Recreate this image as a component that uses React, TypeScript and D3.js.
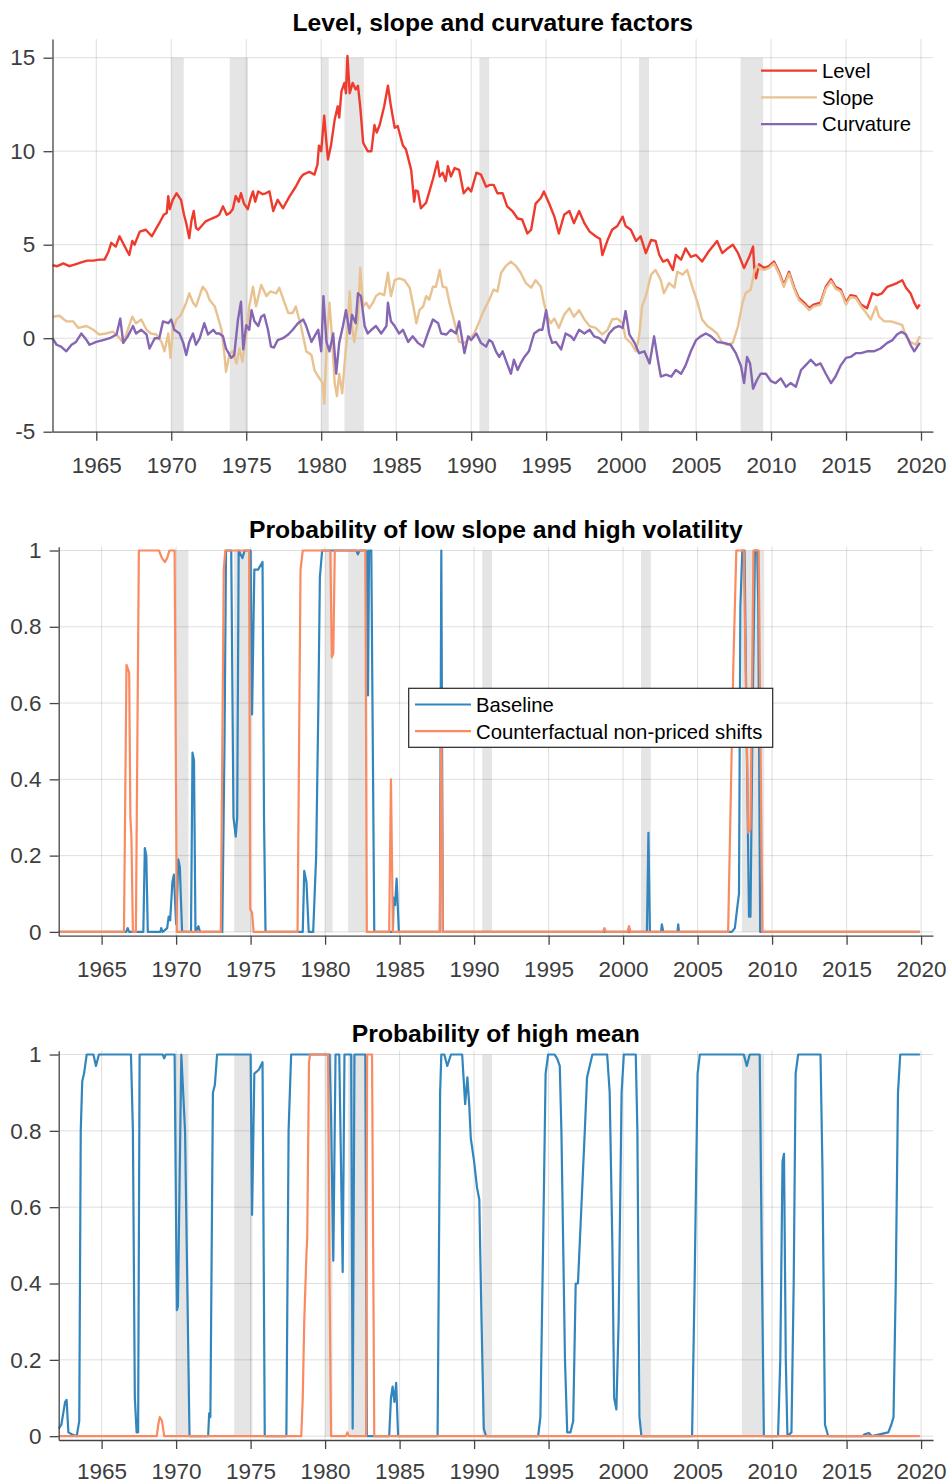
import React, { useEffect, useRef } from 'react';
import * as d3 from 'd3';

type Pt = [number, number];

// x ticks shared by the three panels
const yearTicks = [1965, 1970, 1975, 1980, 1985, 1990, 1995, 2000, 2005, 2010, 2015, 2020];
const factorTicks = [-5, 0, 5, 10, 15];
const probTicks = [0, 0.2, 0.4, 0.6, 0.8, 1];

// NBER recessions (start, end)
const recessions: Pt[] = [
  [1970.0, 1970.83], [1973.9, 1975.12], [1980.0, 1980.5], [1981.55, 1982.84],
  [1990.55, 1991.2], [2001.2, 2001.86], [2007.97, 2009.47],
];

// --- panel 1: factors, [year, value] ---
const level: Pt[] = [
  [1962.08, 3.9], [1962.4, 3.85], [1962.8, 4.0], [1963.2, 3.85], [1963.6, 3.95], [1964.0, 4.05], [1964.4, 4.15],
  [1964.8, 4.15], [1965.2, 4.2], [1965.55, 4.2], [1965.8, 4.6], [1966.0, 5.1], [1966.3, 4.9], [1966.55, 5.45],
  [1966.9, 4.9], [1967.2, 4.45], [1967.4, 5.2], [1967.55, 5.0], [1967.9, 5.7], [1968.3, 5.8], [1968.7, 5.45],
  [1969.2, 6.15], [1969.5, 6.6], [1969.7, 6.7], [1969.8, 7.6], [1969.9, 6.9], [1970.1, 7.4], [1970.35, 7.75],
  [1970.65, 7.4], [1970.85, 6.6], [1971.0, 6.15], [1971.2, 5.35], [1971.35, 6.3], [1971.5, 6.8], [1971.65, 5.9],
  [1971.8, 5.8], [1972.3, 6.25], [1972.7, 6.4], [1973.0, 6.5], [1973.2, 6.6], [1973.45, 7.05], [1973.7, 6.6],
  [1973.9, 6.7], [1974.1, 6.9], [1974.3, 7.6], [1974.5, 7.3], [1974.65, 7.75], [1974.85, 7.2], [1975.1, 6.9],
  [1975.3, 7.5], [1975.45, 7.85], [1975.6, 7.3], [1975.8, 7.85], [1976.1, 7.7], [1976.3, 7.75], [1976.55, 7.85],
  [1976.8, 6.8], [1977.1, 7.4], [1977.45, 6.95], [1977.9, 7.6], [1978.3, 8.1], [1978.6, 8.55], [1978.8, 8.75],
  [1979.2, 8.9], [1979.55, 8.75], [1979.75, 9.3], [1979.85, 10.3], [1980.0, 10.0], [1980.2, 11.9], [1980.3, 10.9],
  [1980.45, 9.55], [1980.65, 10.3], [1980.9, 11.7], [1981.1, 12.4], [1981.2, 11.8], [1981.35, 13.2], [1981.55, 13.65],
  [1981.65, 13.1], [1981.75, 15.1], [1981.9, 13.1], [1982.1, 13.65], [1982.3, 13.3], [1982.45, 13.5], [1982.6, 12.4],
  [1982.8, 10.45], [1983.1, 10.0], [1983.35, 10.0], [1983.55, 11.4], [1983.7, 11.0], [1983.9, 11.4], [1984.2, 12.4],
  [1984.45, 13.5], [1984.65, 12.4], [1984.9, 11.25], [1985.1, 11.35], [1985.45, 10.3], [1985.65, 10.1], [1986.0, 9.0],
  [1986.2, 7.3], [1986.3, 7.9], [1986.45, 7.85], [1986.65, 6.95], [1987.0, 7.25], [1987.45, 8.5], [1987.75, 9.45],
  [1987.9, 8.65], [1988.1, 8.85], [1988.3, 8.4], [1988.45, 9.2], [1988.65, 8.65], [1988.9, 9.1], [1989.2, 9.0],
  [1989.5, 7.75], [1989.8, 8.05], [1990.0, 7.85], [1990.35, 8.85], [1990.65, 8.75], [1991.0, 8.1], [1991.25, 8.2],
  [1991.5, 8.2], [1991.75, 7.75], [1992.1, 7.75], [1992.4, 7.05], [1992.75, 6.8], [1993.1, 6.4], [1993.4, 6.35],
  [1993.75, 5.6], [1994.0, 5.8], [1994.3, 7.2], [1994.65, 7.5], [1994.85, 7.85], [1995.2, 7.2], [1995.55, 6.5],
  [1995.85, 5.6], [1996.2, 6.6], [1996.55, 6.8], [1996.85, 6.15], [1997.2, 6.8], [1997.55, 6.15], [1997.9, 5.7],
  [1998.3, 5.45], [1998.6, 5.3], [1998.75, 4.45], [1999.1, 5.25], [1999.4, 5.8], [1999.75, 6.0], [2000.1, 6.5],
  [2000.3, 6.0], [2000.65, 5.8], [2001.0, 5.2], [2001.3, 5.45], [2001.65, 4.55], [2002.0, 5.25], [2002.3, 5.2],
  [2002.55, 4.45], [2002.8, 4.1], [2003.1, 4.2], [2003.45, 3.65], [2003.65, 4.45], [2004.0, 4.2], [2004.3, 4.8],
  [2004.65, 4.35], [2005.0, 4.45], [2005.4, 4.1], [2005.85, 4.65], [2006.4, 5.2], [2006.75, 4.55], [2007.1, 4.8],
  [2007.45, 5.0], [2007.8, 4.55], [2008.2, 3.75], [2008.55, 4.35], [2008.8, 4.9], [2008.9, 3.5], [2009.0, 3.2],
  [2009.2, 3.95], [2009.55, 3.75], [2009.85, 3.85], [2010.2, 4.1], [2010.55, 3.5], [2010.85, 2.85], [2011.2, 3.55],
  [2011.55, 2.7], [2011.85, 2.15], [2012.2, 1.9], [2012.55, 1.6], [2012.85, 1.8], [2013.3, 1.9], [2013.65, 2.75],
  [2014.0, 3.15], [2014.3, 2.75], [2014.65, 2.6], [2015.0, 1.9], [2015.3, 2.3], [2015.65, 2.25], [2016.0, 1.8],
  [2016.4, 1.6], [2016.75, 2.4], [2017.1, 2.3], [2017.4, 2.4], [2017.75, 2.75], [2018.1, 2.85], [2018.4, 2.95],
  [2018.75, 3.1], [2019.0, 2.7], [2019.3, 2.4], [2019.55, 1.9], [2019.75, 1.6], [2019.92, 1.8],
];

const slope: Pt[] = [
  [1962.08, 1.15], [1962.55, 1.2], [1963.0, 0.9], [1963.45, 0.9], [1963.8, 0.55], [1964.35, 0.65], [1964.8, 0.45],
  [1965.2, 0.2], [1965.65, 0.25], [1966.1, 0.35], [1966.45, 0.1], [1966.8, -0.25], [1967.1, 0.45], [1967.4, 1.15],
  [1967.65, 0.8], [1968.0, 1.0], [1968.35, 0.45], [1968.65, 0.25], [1969.0, 0.2], [1969.35, -0.2], [1969.55, -0.7],
  [1969.8, 0.25], [1969.95, -1.05], [1970.1, 0.45], [1970.35, 1.0], [1970.65, 1.25], [1971.0, 1.9], [1971.2, 2.4],
  [1971.45, 1.9], [1971.65, 1.7], [1971.9, 2.3], [1972.1, 2.75], [1972.35, 2.5], [1972.55, 2.05], [1972.9, 1.7],
  [1973.1, 1.15], [1973.35, 0.45], [1973.55, -0.9], [1973.65, -1.8], [1973.9, -0.8], [1974.1, -0.7], [1974.35, -1.35],
  [1974.55, -0.55], [1974.75, -1.25], [1975.0, 0.25], [1975.2, 1.7], [1975.45, 2.75], [1975.65, 1.7], [1976.0, 2.85],
  [1976.35, 2.25], [1976.6, 2.5], [1977.0, 2.4], [1977.2, 2.7], [1977.55, 1.9], [1977.8, 1.35], [1978.1, 1.35],
  [1978.3, 1.7], [1978.65, 0.65], [1979.0, -0.7], [1979.35, -0.9], [1979.55, -1.7], [1979.8, -2.05], [1980.1, -2.4],
  [1980.2, -3.5], [1980.4, 0.25], [1980.55, 1.9], [1980.7, 0.25], [1980.9, -2.4], [1981.05, -3.1], [1981.2, -1.9],
  [1981.4, -2.95], [1981.55, -1.45], [1981.7, -0.1], [1981.9, 2.5], [1982.05, 0.65], [1982.2, -0.2], [1982.45, 1.0],
  [1982.6, 3.75], [1982.8, 1.7], [1983.0, 1.9], [1983.2, 1.6], [1983.45, 1.9], [1983.65, 2.25], [1983.9, 2.4],
  [1984.2, 2.3], [1984.45, 3.5], [1984.65, 2.25], [1984.9, 3.1], [1985.2, 3.2], [1985.55, 3.1], [1985.9, 2.7],
  [1986.1, 1.9], [1986.35, 0.8], [1986.55, 1.5], [1986.8, 1.7], [1987.0, 2.25], [1987.2, 2.05], [1987.45, 2.75],
  [1987.65, 2.75], [1987.9, 3.65], [1988.1, 2.75], [1988.35, 2.7], [1988.55, 1.9], [1988.9, 0.8], [1989.2, -0.2],
  [1989.55, -0.25], [1989.9, 0.0], [1990.2, 0.25], [1990.45, 0.7], [1990.8, 1.4], [1991.2, 2.05], [1991.5, 2.6],
  [1991.75, 2.5], [1992.0, 3.5], [1992.3, 3.85], [1992.65, 4.1], [1993.0, 3.85], [1993.3, 3.5], [1993.65, 2.95],
  [1994.0, 2.7], [1994.3, 3.1], [1994.65, 2.75], [1994.85, 1.9], [1995.1, 1.15], [1995.3, 0.8], [1995.55, 1.05],
  [1995.85, 0.55], [1996.2, 1.25], [1996.55, 1.6], [1996.85, 1.15], [1997.2, 1.5], [1997.55, 1.0], [1997.9, 0.65],
  [1998.3, 0.55], [1998.75, 0.2], [1999.1, 0.45], [1999.4, 1.0], [1999.75, 1.05], [2000.1, 0.8], [2000.3, 0.0],
  [2000.65, -0.25], [2001.0, -0.7], [2001.2, 0.1], [2001.4, 1.7], [2001.65, 2.25], [2002.0, 3.4], [2002.3, 3.65],
  [2002.65, 3.1], [2002.85, 2.4], [2003.2, 2.95], [2003.55, 2.7], [2003.75, 3.55], [2004.1, 3.4], [2004.4, 3.65],
  [2004.75, 2.75], [2005.1, 1.9], [2005.4, 1.0], [2005.75, 0.65], [2006.1, 0.45], [2006.4, 0.25], [2006.75, -0.25],
  [2007.1, -0.35], [2007.45, -0.25], [2007.8, 0.65], [2008.1, 1.9], [2008.3, 2.4], [2008.65, 2.6], [2008.9, 3.65],
  [2009.1, 3.85], [2009.3, 3.7], [2009.55, 3.65], [2009.85, 3.75], [2010.2, 4.0], [2010.55, 3.4], [2010.85, 2.75],
  [2011.2, 3.45], [2011.55, 2.6], [2011.85, 2.05], [2012.2, 1.8], [2012.55, 1.5], [2012.85, 1.7], [2013.3, 1.8],
  [2013.65, 2.65], [2014.0, 3.05], [2014.3, 2.65], [2014.65, 2.5], [2015.0, 1.8], [2015.3, 2.2], [2015.65, 2.15],
  [2016.0, 1.7], [2016.3, 1.4], [2016.65, 1.0], [2017.0, 1.7], [2017.2, 1.15], [2017.55, 0.9], [2018.0, 0.9],
  [2018.4, 0.8], [2018.75, 0.7], [2019.0, 0.1], [2019.3, -0.2], [2019.65, -0.35], [2019.92, 0.1],
];

const curvature: Pt[] = [
  [1962.08, 0.0], [1962.35, -0.35], [1962.65, -0.45], [1963.0, -0.7], [1963.35, -0.35], [1963.65, -0.2], [1964.0, 0.25],
  [1964.35, -0.1], [1964.55, -0.35], [1965.0, -0.2], [1965.45, -0.1], [1965.9, 0.0], [1966.35, 0.2], [1966.6, 1.05],
  [1966.8, -0.25], [1967.1, 0.1], [1967.45, 0.65], [1967.65, 0.25], [1968.0, 0.45], [1968.35, 0.2], [1968.55, -0.55],
  [1968.9, 0.0], [1969.2, 0.0], [1969.45, 0.9], [1969.8, 0.8], [1970.0, 1.0], [1970.2, 0.45], [1970.55, 0.25],
  [1970.8, -0.25], [1971.0, -0.9], [1971.2, -0.2], [1971.45, 0.25], [1971.65, -0.35], [1971.9, 0.0], [1972.2, 0.8],
  [1972.45, 0.2], [1972.8, 0.45], [1973.0, 0.25], [1973.2, 0.25], [1973.45, 0.1], [1973.65, -0.55], [1974.0, -1.05],
  [1974.2, -0.9], [1974.45, 1.0], [1974.65, 1.95], [1974.8, -0.6], [1975.0, 0.7], [1975.2, 0.45], [1975.35, 1.5],
  [1975.55, 0.9], [1975.8, 0.65], [1976.0, 1.15], [1976.2, 1.25], [1976.45, 0.45], [1976.65, -0.45], [1976.85, -0.5],
  [1977.1, -0.1], [1977.45, 0.0], [1977.8, 0.2], [1978.1, 0.45], [1978.45, 0.8], [1978.8, 1.0], [1979.0, 0.65],
  [1979.35, -0.2], [1979.55, 0.1], [1979.8, 0.45], [1980.0, -0.7], [1980.15, 2.25], [1980.35, -0.2], [1980.55, -0.7],
  [1980.8, 0.25], [1981.0, -1.9], [1981.2, -0.25], [1981.45, 0.65], [1981.65, 1.5], [1981.9, 0.25], [1982.05, 1.25],
  [1982.3, 0.8], [1982.45, 2.4], [1982.65, 2.25], [1982.9, 0.65], [1983.1, 0.25], [1983.35, 0.45], [1983.65, 0.65],
  [1984.0, 0.25], [1984.35, 0.65], [1984.45, 1.9], [1984.65, 0.9], [1984.9, 0.65], [1985.2, 0.25], [1985.45, 0.45],
  [1985.8, -0.2], [1986.1, 0.1], [1986.45, -0.25], [1986.8, -0.45], [1987.1, 0.25], [1987.45, 1.0], [1987.8, 0.8],
  [1988.0, 0.25], [1988.35, 0.2], [1988.65, 0.45], [1989.0, 0.25], [1989.2, 0.9], [1989.55, -0.8], [1989.8, 0.1],
  [1990.0, -0.1], [1990.35, 0.25], [1990.65, -0.25], [1991.0, -0.45], [1991.2, -0.1], [1991.4, -0.2], [1991.65, -0.7],
  [1991.87, -1.0], [1992.1, -0.7], [1992.3, -1.15], [1992.65, -1.9], [1992.85, -1.15], [1993.1, -1.7], [1993.3, -1.35],
  [1993.55, -1.0], [1993.85, -0.7], [1994.2, 0.25], [1994.55, 0.45], [1994.75, 0.45], [1995.0, 1.5], [1995.2, 0.25],
  [1995.4, -0.25], [1995.65, -0.2], [1996.0, -0.6], [1996.3, 0.25], [1996.65, 0.1], [1996.85, -0.1], [1997.2, 0.45],
  [1997.55, 0.25], [1997.9, 0.45], [1998.2, 0.1], [1998.55, 0.0], [1998.9, -0.25], [1999.2, 0.25], [1999.55, 0.55],
  [1999.85, 0.65], [2000.1, 0.55], [2000.3, 1.45], [2000.55, 0.2], [2000.9, -0.25], [2001.2, -0.8], [2001.55, -0.7],
  [2001.9, -1.35], [2002.2, 0.1], [2002.45, -1.15], [2002.65, -2.05], [2003.0, -1.95], [2003.35, -2.05], [2003.65, -1.7],
  [2004.0, -1.9], [2004.3, -1.45], [2004.65, -0.7], [2005.0, -0.1], [2005.3, 0.1], [2005.65, 0.25], [2006.0, 0.1],
  [2006.4, -0.2], [2006.85, -0.25], [2007.3, -0.35], [2007.65, -0.8], [2008.0, -1.5], [2008.2, -2.4], [2008.4, -1.0],
  [2008.6, -1.35], [2008.8, -2.7], [2009.05, -2.25], [2009.3, -1.9], [2009.65, -1.9], [2010.0, -2.3], [2010.3, -2.4],
  [2010.65, -2.15], [2011.0, -2.6], [2011.3, -2.4], [2011.65, -2.6], [2012.0, -1.7], [2012.3, -1.45], [2012.65, -1.15],
  [2013.0, -1.45], [2013.3, -1.35], [2013.65, -1.9], [2014.0, -2.4], [2014.3, -2.05], [2014.65, -1.45], [2015.0, -1.05],
  [2015.3, -1.0], [2015.65, -0.8], [2016.0, -0.8], [2016.4, -0.7], [2016.85, -0.7], [2017.3, -0.55], [2017.75, -0.25],
  [2018.1, -0.1], [2018.4, 0.2], [2018.7, 0.35], [2019.0, 0.2], [2019.3, -0.35], [2019.55, -0.7], [2019.92, -0.25],
];

// --- panel 2: probability of low slope and high volatility ---
const lowSlopeBaseline: Pt[] = [
  [1962.12, 0], [1966.65, 0], [1966.75, 0.01], [1966.85, 0], [1967.8, 0], [1967.9, 0.22], [1968.0, 0.2], [1968.1, 0],
  [1968.95, 0], [1969.0, 0.01], [1969.1, 0], [1969.4, 0.01], [1969.5, 0.04], [1969.6, 0.03], [1969.75, 0.13],
  [1969.85, 0.15], [1970.0, 0.02], [1970.15, 0.19], [1970.25, 0.17], [1970.4, 0], [1971.0, 0], [1971.1, 0.47],
  [1971.2, 0.45], [1971.3, 0], [1971.5, 0.015], [1971.6, 0], [1973.1, 0], [1973.25, 0.5], [1973.35, 1.0],
  [1973.7, 1.0], [1973.85, 0.3], [1974.0, 0.25], [1974.1, 0.3], [1974.2, 1.0], [1974.45, 0.98], [1974.6, 1.0],
  [1975.0, 1.0], [1975.1, 0.57], [1975.25, 0.95], [1975.5, 0.95], [1975.8, 0.97], [1975.9, 0.3], [1976.0, 0],
  [1978.5, 0], [1978.6, 0.16], [1978.75, 0.13], [1978.9, 0], [1979.2, 0], [1979.4, 0.2], [1979.55, 0.6],
  [1979.65, 0.93], [1979.8, 1.0], [1982.1, 1.0], [1982.2, 0.99], [1982.3, 1.0], [1982.8, 1.0], [1982.88, 0.62],
  [1982.95, 1.0], [1983.1, 1.0], [1983.3, 0], [1984.55, 0], [1984.6, 0.09], [1984.7, 0.07], [1984.8, 0.14],
  [1984.95, 0], [1987.7, 0], [1987.8, 1.0], [1987.9, 0], [2001.6, 0], [2001.7, 0.26], [2001.8, 0], [2002.55, 0],
  [2002.6, 0.02], [2002.7, 0], [2003.65, 0], [2003.7, 0.02], [2003.75, 0], [2007.3, 0], [2007.5, 0.01],
  [2007.65, 0.06], [2007.78, 0.1], [2007.87, 0.85], [2008.0, 1.0], [2008.15, 1.0], [2008.3, 0.5], [2008.45, 0.04],
  [2008.55, 0.04], [2008.7, 0.6], [2008.85, 1.0], [2009.0, 1.0], [2009.07, 0.87], [2009.2, 0], [2019.92, 0],
];

const lowSlopeCounterfactual: Pt[] = [
  [1962.12, 0], [1966.5, 0], [1966.67, 0.7], [1966.85, 0.68], [1966.93, 0.3], [1967.0, 0.25], [1967.1, 0],
  [1967.3, 0], [1967.5, 1.0], [1968.85, 1.0], [1969.05, 0.98], [1969.25, 0.97], [1969.4, 0.98], [1969.55, 1.0],
  [1969.9, 1.0], [1970.05, 0], [1973.0, 0], [1973.2, 0.95], [1973.3, 1.0], [1974.9, 1.0], [1974.97, 0.06],
  [1975.1, 0.05], [1975.2, 0], [1978.15, 0], [1978.35, 0.95], [1978.5, 1.0], [1980.35, 1.0], [1980.45, 0.72],
  [1980.55, 0.73], [1980.65, 1.0], [1982.7, 1.0], [1982.8, 0], [1984.3, 0], [1984.42, 0.4], [1984.55, 0],
  [1987.7, 0], [1987.8, 0.6], [1987.9, 0], [1998.65, 0], [1998.75, 0.01], [1998.85, 0], [2000.3, 0],
  [2000.4, 0.015], [2000.5, 0], [2007.05, 0], [2007.4, 0.7], [2007.6, 1.0], [2008.1, 1.0], [2008.4, 0.26],
  [2008.55, 0.27], [2008.75, 1.0], [2009.1, 1.0], [2009.2, 0.6], [2009.35, 0], [2019.92, 0],
];

// --- panel 3: probability of high mean ---
const highMeanBaseline: Pt[] = [
  [1962.12, 0.02], [1962.3, 0.03], [1962.55, 0.09], [1962.65, 0.095], [1962.77, 0.01], [1963.0, 0.005], [1963.33, 0],
  [1963.5, 0.04], [1963.6, 0.8], [1963.7, 0.93], [1963.82, 0.95], [1964.0, 1.0], [1964.45, 1.0], [1964.62, 0.97],
  [1964.82, 1.0], [1966.97, 1.0], [1967.1, 0.8], [1967.23, 0.1], [1967.35, 0.01], [1967.45, 0.01], [1967.55, 1.0],
  [1969.1, 1.0], [1969.2, 0.99], [1969.3, 1.0], [1969.9, 1.0], [1970.05, 0.33], [1970.12, 0.34], [1970.35, 1.0],
  [1970.6, 0.8], [1970.9, 0], [1972.15, 0], [1972.22, 0.06], [1972.3, 0.05], [1972.47, 0.9], [1972.6, 0.92],
  [1972.75, 1.0], [1975.0, 1.0], [1975.1, 0.58], [1975.25, 0.95], [1975.55, 0.96], [1975.8, 0.98], [1975.95, 0],
  [1977.4, 0], [1977.55, 0.8], [1977.72, 1.0], [1980.3, 1.0], [1980.4, 0.84], [1980.55, 0.46], [1980.7, 1.0],
  [1980.95, 1.0], [1981.18, 0.43], [1981.3, 1.0], [1981.75, 1.0], [1981.85, 0.02], [1981.97, 1.0], [1982.7, 1.0],
  [1982.8, 0], [1984.3, 0], [1984.42, 0.1], [1984.53, 0.13], [1984.65, 0.09], [1984.77, 0.14], [1984.9, 0],
  [1987.55, 0], [1987.72, 0.9], [1987.8, 1.0], [1988.0, 1.0], [1988.2, 0.97], [1988.45, 1.0], [1989.2, 1.0],
  [1989.4, 0.87], [1989.55, 0.94], [1989.67, 0.87], [1989.78, 0.78], [1990.0, 0.72], [1990.2, 0.65], [1990.35, 0.62],
  [1990.5, 0.3], [1990.65, 0.02], [1990.8, 0], [1994.3, 0], [1994.45, 0.05], [1994.63, 0.5], [1994.8, 0.95],
  [1994.97, 1.0], [1995.4, 1.0], [1995.57, 0.99], [1995.75, 0.97], [1995.86, 0.8], [1996.1, 0.2], [1996.25, 0.01],
  [1996.47, 0.01], [1996.65, 0.04], [1996.82, 0.4], [1996.97, 0.4], [1997.2, 0.6], [1997.43, 0.8], [1997.58, 0.94],
  [1997.76, 0.97], [1997.94, 1.0], [1998.93, 1.0], [1999.1, 0.9], [1999.28, 0.5], [1999.4, 0.1], [1999.55, 0.07],
  [1999.7, 0.3], [1999.9, 0.9], [2000.05, 1.0], [2000.85, 1.0], [2000.96, 0.8], [2001.1, 0.05], [2001.23, 0],
  [2004.63, 0], [2004.8, 0.4], [2005.0, 0.95], [2005.15, 1.0], [2008.1, 1.0], [2008.3, 0.97], [2008.5, 1.0],
  [2009.17, 1.0], [2009.3, 0.5], [2009.45, 0], [2010.4, 0], [2010.55, 0.2], [2010.7, 0.72], [2010.8, 0.74],
  [2010.92, 0.2], [2011.03, 0], [2011.3, 0.01], [2011.45, 0.4], [2011.58, 0.95], [2011.75, 1.0], [2013.25, 1.0],
  [2013.38, 0.7], [2013.55, 0.03], [2013.77, 0], [2016.1, 0], [2016.2, 0.005], [2016.5, 0.008], [2016.7, 0],
  [2017.8, 0.01], [2018.0, 0.03], [2018.15, 0.05], [2018.3, 0.4], [2018.45, 0.9], [2018.6, 1.0], [2019.92, 1.0],
];

const highMeanCounterfactual: Pt[] = [
  [1962.12, 0], [1968.7, 0], [1968.8, 0.03], [1968.9, 0.05], [1969.05, 0.04], [1969.2, 0], [1978.4, 0],
  [1978.5, 0.1], [1978.6, 0.3], [1978.75, 0.48], [1978.8, 0.52], [1978.92, 0.98], [1979.0, 1.0], [1980.2, 1.0],
  [1980.3, 0.4], [1980.4, 0], [1981.4, 0], [1981.5, 0.01], [1981.6, 0], [1982.75, 0], [1982.82, 1.0],
  [1983.15, 1.0], [1983.3, 0], [2019.92, 0],
];

const FONT = '"Liberation Sans", Arial, Helvetica, sans-serif';
const RED = '#ee3b2e';
const TAN = '#e8c291';
const PURPLE = '#8566b3';
const BLUE = '#3286bd';
const ORANGE = '#fb8a60';

export default function App() {
  const svgRef = useRef<SVGSVGElement>(null);

  useEffect(() => {
    const svg = d3.select(svgRef.current);
    svg.selectAll('*').remove();

    const panels = [
      {
        title: 'Level, slope and curvature factors',
        left: 52.5, right: 933, top: 39, bottom: 431.7, labelPad: 16.5, lineW: 2.4,
        xDomain: [1962.08, 2020.8], yDomain: [-5, 16], yTicks: factorTicks, shade: [-5, 15],
        series: [
          { name: 'Level', data: level, color: RED },
          { name: 'Slope', data: slope, color: TAN },
          { name: 'Curvature', data: curvature, color: PURPLE },
        ],
        legend: { x: 761, y: 70.7, box: false },
      },
      {
        title: 'Probability of low slope and high volatility',
        left: 58.7, right: 933, top: 546.7, bottom: 935.7, labelPad: 16.5, lineW: 2.2,
        xDomain: [1962.12, 2020.8], yDomain: [-0.01, 1.01], yTicks: probTicks, shade: [0, 1],
        series: [
          { name: 'Baseline', data: lowSlopeBaseline, color: BLUE },
          { name: 'Counterfactual non-priced shifts', data: lowSlopeCounterfactual, color: ORANGE },
        ],
        legend: { x: 415, y: 704.5, box: true },
      },
      {
        title: 'Probability of high mean',
        left: 58.7, right: 933, top: 1050.7, bottom: 1440, labelPad: 14, lineW: 2.2,
        xDomain: [1962.12, 2020.8], yDomain: [-0.01, 1.01], yTicks: probTicks, shade: [0, 1],
        series: [
          { name: 'Baseline', data: highMeanBaseline, color: BLUE },
          { name: 'Counterfactual', data: highMeanCounterfactual, color: ORANGE },
        ],
        legend: null,
      },
    ];

    panels.forEach((p) => {
      const x = d3.scaleLinear().domain(p.xDomain).range([p.left, p.right]);
      const y = d3.scaleLinear().domain(p.yDomain).range([p.bottom, p.top]);
      const g = svg.append('g');

      // recession bands
      g.selectAll('.rec')
        .data(recessions)
        .enter()
        .append('rect')
        .attr('x', (d) => x(d[0]))
        .attr('width', (d) => x(d[1]) - x(d[0]))
        .attr('y', y(p.shade[1]))
        .attr('height', y(p.shade[0]) - y(p.shade[1]))
        .attr('fill', '#e5e5e5');

      // grid
      g.selectAll('.vgrid')
        .data(yearTicks)
        .enter()
        .append('line')
        .attr('x1', (d) => x(d)).attr('x2', (d) => x(d))
        .attr('y1', p.top).attr('y2', p.bottom)
        .attr('stroke', '#262626').attr('stroke-opacity', 0.15).attr('stroke-width', 1);
      g.selectAll('.hgrid')
        .data(p.yTicks)
        .enter()
        .append('line')
        .attr('x1', p.left).attr('x2', p.right)
        .attr('y1', (d) => y(d)).attr('y2', (d) => y(d))
        .attr('stroke', '#262626').attr('stroke-opacity', 0.15).attr('stroke-width', 1);

      // lines
      const line = d3.line<Pt>().x((d) => x(d[0])).y((d) => y(d[1]));
      p.series.forEach((s) => {
        g.append('path')
          .datum(s.data)
          .attr('d', line)
          .attr('fill', 'none')
          .attr('stroke', s.color)
          .attr('stroke-width', p.lineW)
          .attr('stroke-linejoin', 'round');
      });

      // axes
      const xAxis = g.append('g')
        .attr('transform', `translate(0,${p.bottom})`)
        .call(d3.axisBottom(x).tickValues(yearTicks).tickSize(9).tickSizeOuter(0).tickPadding(p.labelPad).tickFormat(d3.format('d')));
      const yAxis = g.append('g')
        .attr('transform', `translate(${p.left},0)`)
        .call(d3.axisLeft(y).tickValues(p.yTicks).tickSize(9).tickSizeOuter(0).tickPadding(8.2).tickFormat((d) => String(d)));
      [xAxis, yAxis].forEach((a) => {
        a.select('.domain').attr('stroke', '#444').attr('stroke-width', 1.3);
        a.selectAll('.tick line').attr('stroke', '#444').attr('stroke-width', 1.3);
        a.selectAll('.tick text')
          .attr('fill', '#3d3d3d')
          .attr('font-size', '22.5px')
          .attr('font-family', FONT);
      });

      // title
      g.append('text')
        .attr('x', (p.left + p.right) / 2)
        .attr('y', p.top - 8.5)
        .attr('text-anchor', 'middle')
        .attr('font-family', FONT)
        .attr('font-size', '24.7px')
        .attr('font-weight', 'bold')
        .attr('fill', '#000')
        .text(p.title);

      // legend
      if (p.legend) {
        const lg = g.append('g');
        const rowH = 26.7;
        if (p.legend.box) {
          lg.append('rect')
            .attr('x', 408.7).attr('y', 688.3)
            .attr('width', 364).attr('height', 59)
            .attr('fill', '#fff').attr('stroke', '#262626').attr('stroke-width', 1.2);
        }
        p.series.forEach((s, i) => {
          const ly = p.legend!.y + i * rowH;
          lg.append('line')
            .attr('x1', p.legend!.x).attr('x2', p.legend!.x + 56)
            .attr('y1', ly).attr('y2', ly)
            .attr('stroke', s.color).attr('stroke-width', 2.2);
          lg.append('text')
            .attr('x', p.legend!.x + 61)
            .attr('y', ly + 7.3)
            .attr('font-family', FONT)
            .attr('font-size', '20.3px')
            .attr('fill', '#000')
            .text(s.name);
        });
      }
    });
  }, []);

  return (
    <div style={{ position: 'absolute', left: 0, top: 0 }}>
      <svg ref={svgRef} width={950} height={1483} style={{ display: 'block', background: '#fff' }} />
    </div>
  );
}
